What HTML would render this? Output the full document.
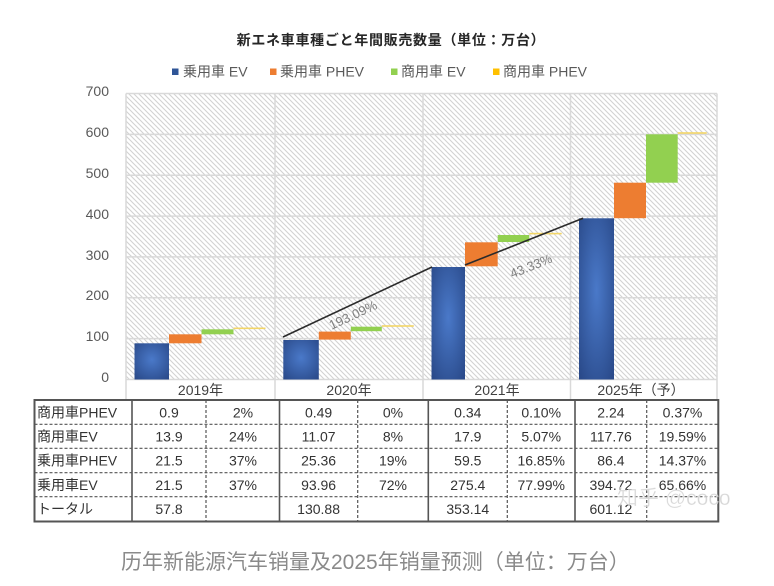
<!DOCTYPE html>
<html>
<head>
<meta charset="utf-8">
<style>
  html, body { margin:0; padding:0; background:#ffffff; }
  body { width:774px; height:586px; overflow:hidden; }
  svg { display:block; }
  .jp { font-family: "Liberation Sans", "Noto Sans CJK JP", sans-serif; }
  .sc { font-family: "Liberation Sans", "Noto Sans CJK SC", sans-serif; }
</style>
</head>
<body>
<svg width="774" height="586" viewBox="0 0 774 586" xmlns="http://www.w3.org/2000/svg">
  <defs>
    <pattern id="hatch" patternUnits="userSpaceOnUse" width="5" height="5">
      <rect width="5" height="5" fill="#ffffff"/>
      <path d="M-1,-1 L6,6 M-1,4 L1,6 M4,-1 L6,1" stroke="#d2d2d2" stroke-width="1.1"/>
    </pattern>
    <radialGradient id="blueg" cx="50%" cy="45%" r="70%">
      <stop offset="0%" stop-color="#4a79c9"/>
      <stop offset="100%" stop-color="#2a4a8a"/>
    </radialGradient>
  </defs>

  <!-- Title -->
  <text class="jp" x="391" y="45" text-anchor="middle" font-size="14" font-weight="bold" fill="#262626" letter-spacing="0.7">新エネ車車種ごと年間販売数量（単位：万台）</text>

  <!-- Legend -->
  <g class="jp" font-size="14" fill="#595959">
    <rect x="172" y="68.5" width="6.5" height="6.5" fill="#2f5597"/>
    <text x="183" y="76.5">乗用車 EV</text>
    <rect x="270" y="68.5" width="6.5" height="6.5" fill="#ed7d31"/>
    <text x="280" y="76.5">乗用車 PHEV</text>
    <rect x="391" y="68.5" width="6.5" height="6.5" fill="#92d050"/>
    <text x="401" y="76.5">商用車 EV</text>
    <rect x="493" y="68.5" width="6.5" height="6.5" fill="#ffc000"/>
    <text x="503" y="76.5">商用車 PHEV</text>
  </g>

  <!-- Plot background -->
  <rect x="126" y="93.5" width="591" height="286" fill="url(#hatch)"/>

  <!-- Horizontal gridlines -->
  <g stroke="#d9d9d9" stroke-width="1.5">
    <line x1="126" y1="93.5" x2="717" y2="93.5"/>
    <line x1="126" y1="134.4" x2="717" y2="134.4"/>
    <line x1="126" y1="175.2" x2="717" y2="175.2"/>
    <line x1="126" y1="216.1" x2="717" y2="216.1"/>
    <line x1="126" y1="256.9" x2="717" y2="256.9"/>
    <line x1="126" y1="297.8" x2="717" y2="297.8"/>
    <line x1="126" y1="338.6" x2="717" y2="338.6"/>
    <line x1="126" y1="379.5" x2="717" y2="379.5"/>
  </g>
  <!-- Vertical category lines (extend to table) -->
  <g stroke="#d9d9d9" stroke-width="1.5">
    <line x1="126" y1="93.5" x2="126" y2="400"/>
    <line x1="275" y1="93.5" x2="275" y2="400"/>
    <line x1="423" y1="93.5" x2="423" y2="400"/>
    <line x1="570.5" y1="93.5" x2="570.5" y2="400"/>
    <line x1="717" y1="93.5" x2="717" y2="400"/>
  </g>

  <!-- Y labels -->
  <g class="jp" font-size="14" fill="#595959" text-anchor="end">
    <text x="109" y="96">700</text>
    <text x="109" y="137">600</text>
    <text x="109" y="178">500</text>
    <text x="109" y="219">400</text>
    <text x="109" y="260">300</text>
    <text x="109" y="300">200</text>
    <text x="109" y="341">100</text>
    <text x="109" y="382">0</text>
  </g>

  <!-- 2019 -->
  <rect x="134.5" y="343.3" width="34.5" height="36.2" fill="url(#blueg)"/>
  <rect x="169" y="334.3" width="32.5" height="9" fill="#ed7d31"/>
  <rect x="201.5" y="329.3" width="32" height="5" fill="#92d050"/>
  <rect x="233.5" y="327.5" width="32" height="1.6" fill="#f3d667"/>

  <!-- 2020 -->
  <rect x="283.3" y="340" width="35.5" height="39.5" fill="url(#blueg)"/>
  <rect x="318.8" y="331.6" width="32" height="8" fill="#ed7d31"/>
  <rect x="350.8" y="326.7" width="31" height="4.5" fill="#92d050"/>
  <rect x="381.8" y="325.2" width="32" height="1.6" fill="#f3d667"/>

  <!-- 2021 -->
  <rect x="431.5" y="267" width="33.5" height="112.5" fill="url(#blueg)"/>
  <rect x="465" y="242.3" width="32.7" height="24" fill="#ed7d31"/>
  <rect x="497.7" y="235" width="31.6" height="7" fill="#92d050"/>
  <rect x="529.3" y="232.8" width="32.4" height="1.6" fill="#f3d667"/>

  <!-- 2025 -->
  <rect x="579" y="218.3" width="35" height="161.2" fill="url(#blueg)"/>
  <rect x="614" y="182.7" width="32" height="35.5" fill="#ed7d31"/>
  <rect x="646" y="134.3" width="31.7" height="48.4" fill="#92d050"/>
  <rect x="677.7" y="132.2" width="29" height="1.6" fill="#f3d667"/>

  <!-- Trend lines -->
  <g stroke="#2b2b2b" stroke-width="1.6">
    <line x1="283" y1="337" x2="432" y2="267"/>
    <line x1="465" y1="265" x2="583" y2="218.3"/>
  </g>
  <g class="jp" font-size="13" fill="#808080">
    <text x="353" y="319.5" text-anchor="middle" transform="rotate(-25 353 315)">193.09%</text>
    <text x="531" y="270.5" text-anchor="middle" transform="rotate(-22 531 266)">43.33%</text>
  </g>

  <!-- Year labels -->
  <g class="jp" font-size="14" fill="#404040" text-anchor="middle">
    <text x="200.5" y="395">2019年</text>
    <text x="349" y="395">2020年</text>
    <text x="497" y="395">2021年</text>
    <text x="641" y="395">2025年（予）</text>
  </g>

  <!-- Table -->
  <g fill="none" stroke="#555555">
    <!-- dashed horizontals -->
    <g stroke-width="1.2" stroke-dasharray="3,2">
      <line x1="34.5" y1="424.3" x2="718.3" y2="424.3"/>
      <line x1="34.5" y1="448.3" x2="718.3" y2="448.3"/>
      <line x1="34.5" y1="472.7" x2="718.3" y2="472.7"/>
      <line x1="34.5" y1="496.7" x2="718.3" y2="496.7"/>
    </g>
    <!-- dashed verticals -->
    <g stroke-width="1.2" stroke-dasharray="3,2">
      <line x1="206" y1="400" x2="206" y2="521.5"/>
      <line x1="357.7" y1="400" x2="357.7" y2="521.5"/>
      <line x1="507.3" y1="400" x2="507.3" y2="521.5"/>
      <line x1="646.7" y1="400" x2="646.7" y2="521.5"/>
    </g>
    <!-- solid verticals -->
    <g stroke-width="1.6">
      <line x1="132" y1="400" x2="132" y2="521.5"/>
      <line x1="279.5" y1="400" x2="279.5" y2="521.5"/>
      <line x1="428.3" y1="400" x2="428.3" y2="521.5"/>
      <line x1="575" y1="400" x2="575" y2="521.5"/>
    </g>
    <rect x="34.5" y="400" width="683.8" height="121.5" stroke-width="2"/>
  </g>

  <g class="jp" font-size="14" fill="#333333">
    <text x="37" y="417.5">商用車PHEV</text>
    <text x="37" y="441.5">商用車EV</text>
    <text x="37" y="465.5">乗用車PHEV</text>
    <text x="37" y="490">乗用車EV</text>
    <text x="37" y="514">トータル</text>
  </g>
  <g class="jp" font-size="14" fill="#333333" text-anchor="middle">
    <!-- row1 -->
    <text x="169" y="417.5">0.9</text>
    <text x="243" y="417.5">2%</text>
    <text x="318.6" y="417.5">0.49</text>
    <text x="393" y="417.5">0%</text>
    <text x="467.8" y="417.5">0.34</text>
    <text x="541.2" y="417.5">0.10%</text>
    <text x="610.9" y="417.5">2.24</text>
    <text x="682.5" y="417.5">0.37%</text>
    <!-- row2 -->
    <text x="169" y="441.5">13.9</text>
    <text x="243" y="441.5">24%</text>
    <text x="318.6" y="441.5">11.07</text>
    <text x="393" y="441.5">8%</text>
    <text x="467.8" y="441.5">17.9</text>
    <text x="541.2" y="441.5">5.07%</text>
    <text x="610.9" y="441.5">117.76</text>
    <text x="682.5" y="441.5">19.59%</text>
    <!-- row3 -->
    <text x="169" y="465.5">21.5</text>
    <text x="243" y="465.5">37%</text>
    <text x="318.6" y="465.5">25.36</text>
    <text x="393" y="465.5">19%</text>
    <text x="467.8" y="465.5">59.5</text>
    <text x="541.2" y="465.5">16.85%</text>
    <text x="610.9" y="465.5">86.4</text>
    <text x="682.5" y="465.5">14.37%</text>
    <!-- row4 -->
    <text x="169" y="490">21.5</text>
    <text x="243" y="490">37%</text>
    <text x="318.6" y="490">93.96</text>
    <text x="393" y="490">72%</text>
    <text x="467.8" y="490">275.4</text>
    <text x="541.2" y="490">77.99%</text>
    <text x="610.9" y="490">394.72</text>
    <text x="682.5" y="490">65.66%</text>
    <!-- row5 -->
    <text x="169" y="514">57.8</text>
    <text x="318.6" y="514">130.88</text>
    <text x="467.8" y="514">353.14</text>
    <text x="610.9" y="514">601.12</text>
  </g>

  <!-- Watermark -->
  <text class="sc" x="617" y="505" font-size="21" fill="#c8c8c8" fill-opacity="0.75" stroke="#ffffff" stroke-width="0.6" stroke-opacity="0.6">知乎 @coco</text>

  <!-- Caption -->
  <text class="sc" x="121" y="569" font-size="21" fill="#8a8a8a">历年新能源汽车销量及2025年销量预测（单位：万台）</text>
</svg>
</body>
</html>
